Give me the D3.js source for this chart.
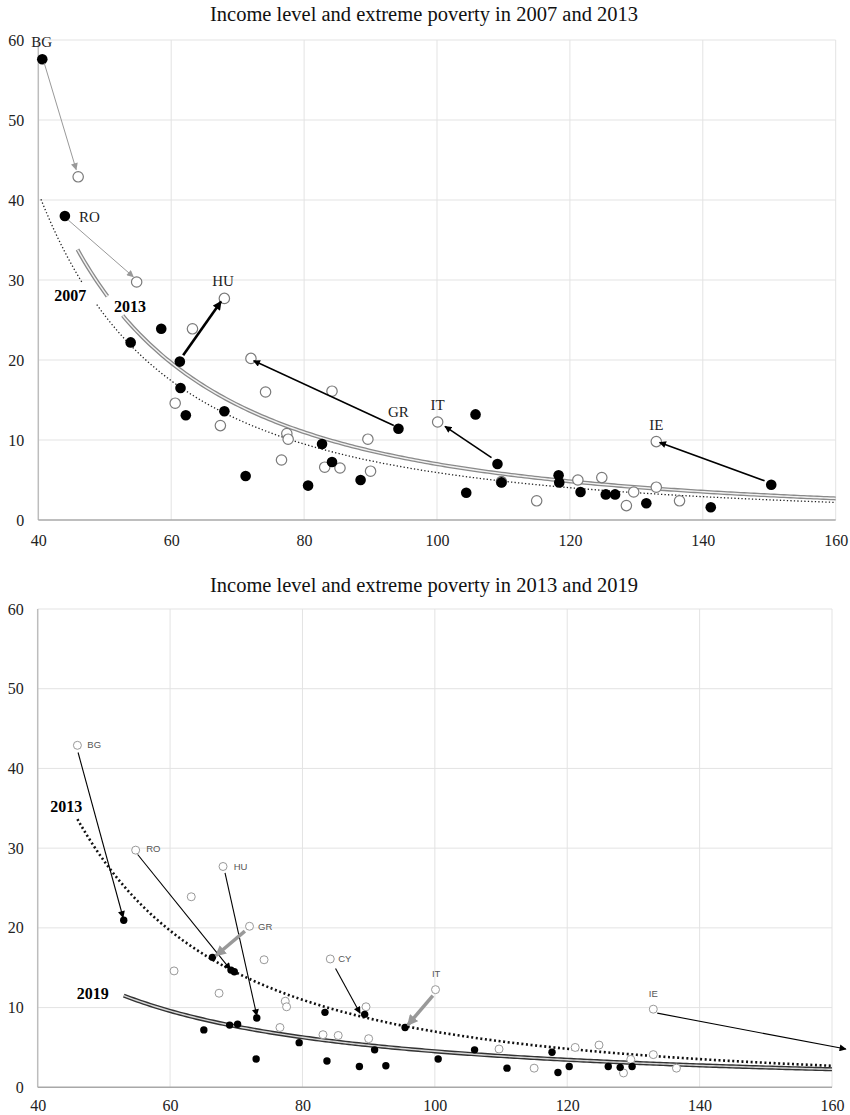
<!DOCTYPE html>
<html><head><meta charset="utf-8">
<script src="https://cdn.jsdelivr.net/npm/d3@7"></script>
<style>body{margin:0;background:#fff}svg{display:block}</style>
</head><body>
<svg id="c" width="850" height="1115"></svg>
<script>
// ---------- data ----------
const xTicks = [40,60,80,100,120,140,160];
const yTicks = [0,10,20,30,40,50,60];

const inc2007 = [40.6,44.0,53.9,58.5,61.3,61.4,62.2,68.0,71.2,80.6,82.7,84.2,88.5,94.2,104.4,105.8,109.1,109.7,118.3,118.4,121.6,125.4,126.8,131.5,141.2,150.3];
const pov2007 = [57.6,38.0,22.2,23.9,19.8,16.5,13.1,13.6,5.5,4.3,9.5,7.25,5.0,11.4,3.4,13.2,7.0,4.7,5.6,4.7,3.5,3.2,3.2,2.1,1.6,4.4];

const inc2013 = [46.0,54.8,68.0,63.2,72.0,74.2,84.2,60.6,67.4,77.4,77.6,89.6,76.6,83.1,85.4,90.0,100.1,109.7,115.0,121.2,124.8,128.5,129.6,133.0,133.0,136.5];
const pov2013 = [42.9,29.75,27.7,23.9,20.2,16.0,16.1,14.6,11.8,10.8,10.1,10.1,7.5,6.6,6.5,6.1,12.25,4.8,2.4,5.0,5.3,1.8,3.5,9.8,4.1,2.4];

const inc2019 = [53.0,66.4,69.2,69.7,65.1,69.0,70.2,73.1,73.0,79.5,83.4,83.7,88.6,89.4,90.9,92.6,95.5,100.5,106.0,110.9,117.7,118.6,120.3,126.2,128.0,129.8];
const pov2019 = [20.95,16.3,14.7,14.5,7.2,7.8,7.9,8.7,3.55,5.6,9.4,3.3,2.6,9.15,4.7,2.7,7.5,3.55,4.7,2.4,4.4,1.85,2.6,2.6,2.5,2.6];

// power trend lines: [x0, y0, exponent]
const trend2007 = [40.4, 40.1, -2.109];
const trend2013 = [45.9, 33.8, -2.024];
const trend2019 = [53.0, 11.5, -1.472];

// annotations chart 1 (label baseline positions in data units)
const ann1Labels = ["BG","RO","HU","GR","IT","IE"];
const ann1LabelPos = [[40.5,59.1],[47.7,37.25],[67.8,29.25],[94.2,12.9],[100.1,13.75],[133.0,11.3]];
const ann1Arrows = [[40.9,57.1,45.7,43.8],[44.5,37.5,54.3,30.4],[61.8,20.6,67.5,27.3],[93.5,11.8,72.4,19.9],[108.2,7.8,101.2,11.7],[149.3,4.9,133.5,9.7]];
const ann1Style = ["gs","gs","bl","bm","bm","bm"];

const ann2Labels = ["BG","RO","HU","GR","CY","IT","IE"];
const ann2LabelPos = [[47.5,43.0],[56.4,29.9],[69.6,27.7],[73.3,20.2],[85.4,16.1],[100.2,14.2],[133.0,11.8]];
const ann2Anchor = ["start","start","start","start","start","middle","middle"];
const ann2Arrows = [[46.1,42.0,52.9,21.3],[55.1,29.2,69.1,14.8],[68.3,26.9,73.1,9.0],[71.3,19.6,66.9,16.5],[85.0,14.9,88.7,9.3],[99.7,11.5,95.9,7.8],[133.6,9.3,162.1,4.8]];
const ann2Style = ["bs","bs","bs","gl","bs","gl","bs"];

// ---------- drawing ----------
const svg = d3.select("#c");
const defs = svg.append("defs");
const markers = {gs:["#999",7,9], bl:["#000",9,10], bm:["#000",7,8], bs:["#000",7,8], gl:["#999",11,11]};
const strokeW = {gs:1, bl:2.6, bm:1.6, bs:1.1, gl:3.5};
Object.entries(markers).forEach(([k,[col,w,l]])=>{
  defs.append("marker").attr("id","m-"+k).attr("viewBox","0 0 10 10")
    .attr("refX",9).attr("refY",5).attr("markerUnits","userSpaceOnUse")
    .attr("markerWidth",l).attr("markerHeight",w).attr("orient","auto")
    .append("path").attr("d","M0,0 L10,5 L0,10 z").attr("fill",col);
});

function powerPts(t, x1, x2){
  const pts=[]; for(let x=x1;x<=x2+1e-9;x+=0.5){pts.push([x, t[1]*Math.pow(x/t[0], t[2])]);}
  if(pts[pts.length-1][0]<x2) pts.push([x2, t[1]*Math.pow(x2/t[0], t[2])]);
  return pts;
}

function frame(g, x, y, title, titleY, xPad){
  svg.append("text").attr("x",424).attr("y",titleY).attr("text-anchor","middle")
    .attr("font-family","Liberation Serif, serif").attr("font-size",20.5).attr("fill","#111").text(title);
  g.append("g").selectAll("line").data(yTicks.filter(d=>d>0)).join("line")
    .attr("x1",x(40)).attr("x2",x(160)).attr("y1",d=>y(d)).attr("y2",d=>y(d))
    .attr("stroke","#e3e3e3").attr("stroke-width",1);
  g.append("g").selectAll("line").data(xTicks.filter(d=>d>40)).join("line")
    .attr("x1",d=>x(d)).attr("x2",d=>x(d)).attr("y1",y(0)).attr("y2",y(60))
    .attr("stroke","#e3e3e3").attr("stroke-width",1);
  g.append("line").attr("x1",x(40)).attr("x2",x(40)).attr("y1",y(0)).attr("y2",y(60)).attr("stroke","#bdbdbd").attr("stroke-width",1.5);
  g.append("line").attr("x1",x(40)).attr("x2",x(160)).attr("y1",y(0)).attr("y2",y(0)).attr("stroke","#a8a8a8").attr("stroke-width",1.5);
  const ax = g.append("g").attr("transform",`translate(0,${y(0)})`)
    .call(d3.axisBottom(x).tickValues(xTicks).tickSize(0).tickPadding(xPad).tickFormat(d3.format("d")));
  ax.select(".domain").remove();
  ax.selectAll("text").attr("font-family","Liberation Serif, serif").attr("font-size",16).attr("fill","#222");
  const ay = g.append("g").attr("transform",`translate(${x(40)-14},0)`)
    .call(d3.axisLeft(y).tickValues(yTicks).tickSize(0).tickPadding(0).tickFormat(d3.format("d")));
  ay.select(".domain").remove();
  ay.selectAll("text").attr("font-family","Liberation Serif, serif").attr("font-size",16).attr("fill","#222");
}

function arrows(g, x, y, data, styles){
  g.append("g").selectAll("line").data(data).join("line")
    .attr("x1",d=>x(d[0])).attr("y1",d=>y(d[1])).attr("x2",d=>x(d[2])).attr("y2",d=>y(d[3]))
    .attr("stroke",(d,i)=>markers[styles[i]][0]).attr("stroke-width",(d,i)=>strokeW[styles[i]])
    .attr("marker-end",(d,i)=>`url(#m-${styles[i]})`);
}

// ---------- chart 1 ----------
{
  const x = d3.scaleLinear().domain([40,160]).range([38.3,835.7]);
  const y = d3.scaleLinear().domain([0,60]).range([520,40]);
  const g = svg.append("g");
  frame(g, x, y, "Income level and extreme poverty in 2007 and 2013", 20.5, 15);
  const line = d3.line().x(d=>x(d[0])).y(d=>y(d[1]));
  [[40.4,46.7],[48.8,160]].forEach(([a,b])=>{
    g.append("path").attr("d",line(powerPts(trend2007,a,b))).attr("fill","none")
      .attr("stroke","#222").attr("stroke-width",1.3).attr("stroke-dasharray","1.3,2.2");
  });
  [[45.9,50.4],[52.7,160]].forEach(([a,b])=>{
    const p = line(powerPts(trend2013,a,b));
    g.append("path").attr("d",p).attr("fill","none").attr("stroke","#8a8a8a").attr("stroke-width",4);
    g.append("path").attr("d",p).attr("fill","none").attr("stroke","#f2f2f2").attr("stroke-width",1.4);
  });
  g.append("text").attr("x",x(44.8)).attr("y",y(27.4)).attr("font-family","Liberation Serif, serif").attr("font-weight","bold").attr("font-size",16).attr("text-anchor","middle").text("2007");
  g.append("text").attr("x",x(53.8)).attr("y",y(26.0)).attr("font-family","Liberation Serif, serif").attr("font-weight","bold").attr("font-size",16).attr("text-anchor","middle").text("2013");
  g.append("g").selectAll("circle").data(inc2013).join("circle")
    .attr("cx",d=>x(d)).attr("cy",(d,i)=>y(pov2013[i])).attr("r",5.2)
    .attr("fill","#fff").attr("stroke","#7a7a7a").attr("stroke-width",1.2);
  g.append("g").selectAll("circle").data(inc2007).join("circle")
    .attr("cx",d=>x(d)).attr("cy",(d,i)=>y(pov2007[i])).attr("r",5.3).attr("fill","#000");
  arrows(g, x, y, ann1Arrows, ann1Style);
  g.append("g").selectAll("text").data(ann1Labels).join("text")
    .attr("x",(d,i)=>x(ann1LabelPos[i][0])).attr("y",(d,i)=>y(ann1LabelPos[i][1]))
    .attr("text-anchor","middle").attr("font-family","Liberation Serif, serif").attr("font-size",15).attr("fill","#222").text(d=>d);
}

// ---------- chart 2 ----------
{
  const x = d3.scaleLinear().domain([40,160]).range([37.7,832]);
  const y = d3.scaleLinear().domain([0,60]).range([1087.3,609]);
  const g = svg.append("g");
  frame(g, x, y, "Income level and extreme poverty in 2013 and 2019", 592, 12);
  const line = d3.line().x(d=>x(d[0])).y(d=>y(d[1]));
  g.append("path").attr("d",line(powerPts(trend2013,46.0,160))).attr("fill","none")
    .attr("stroke","#111").attr("stroke-width",2.6).attr("stroke-dasharray","2,2.6");
  const p19 = line(powerPts(trend2019,53.0,160));
  g.append("path").attr("d",p19).attr("fill","none").attr("stroke","#333").attr("stroke-width",4.2);
  g.append("path").attr("d",p19).attr("fill","none").attr("stroke","#d8d8d8").attr("stroke-width",1.4);
  g.append("text").attr("x",x(44.3)).attr("y",y(34.5)).attr("font-family","Liberation Serif, serif").attr("font-weight","bold").attr("font-size",16).attr("text-anchor","middle").text("2013");
  g.append("text").attr("x",x(48.3)).attr("y",y(11.05)).attr("font-family","Liberation Serif, serif").attr("font-weight","bold").attr("font-size",16).attr("text-anchor","middle").text("2019");
  g.append("g").selectAll("circle").data(inc2013).join("circle")
    .attr("cx",d=>x(d)).attr("cy",(d,i)=>y(pov2013[i])).attr("r",4)
    .attr("fill","#fff").attr("stroke","#999").attr("stroke-width",1);
  g.append("g").selectAll("circle").data(inc2019).join("circle")
    .attr("cx",d=>x(d)).attr("cy",(d,i)=>y(pov2019[i])).attr("r",3.7).attr("fill","#000");
  arrows(g, x, y, ann2Arrows, ann2Style);
  g.append("g").selectAll("text").data(ann2Labels).join("text")
    .attr("x",(d,i)=>x(ann2LabelPos[i][0])).attr("y",(d,i)=>y(ann2LabelPos[i][1]))
    .attr("dy","0.35em").attr("text-anchor",(d,i)=>ann2Anchor[i])
    .attr("font-family","Liberation Sans, sans-serif").attr("font-size",9.5).attr("fill","#555").text(d=>d);
}
</script>
</body></html>
